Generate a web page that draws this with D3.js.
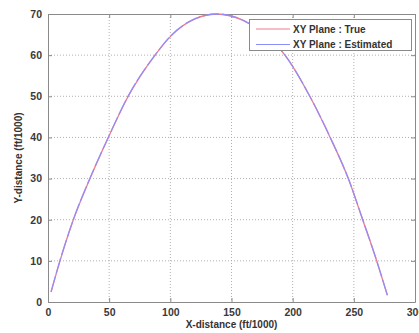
<!DOCTYPE html>
<html>
<head>
<meta charset="utf-8">
<script src="https://cdn.jsdelivr.net/npm/d3@7"></script>
<style>
body{margin:0;background:#fff;}
text{font-family:"Liberation Sans",Arial,sans-serif;}
</style>
</head>
<body>
<div id="chart"></div>
<script>
(function(){

	var width = 419;
	var height = 333;

	// trajectory
	var xTrue = [2.5, 9.8, 20.7, 34.3, 49.3, 65.6, 87.5, 100, 120, 138, 160, 175, 193.7, 214, 230.6, 245.5, 257.2, 268.7, 277.4];
	var yTrue = [2.4, 10, 20, 30, 40, 50, 60, 64.5, 68.8, 70, 68.4, 65.6, 60, 50, 40, 30, 20, 10, 1.6];
	var xEst = [2.5, 9.8, 20.7, 34.3, 49.3, 65.6, 87.5, 100, 120, 138, 160, 175, 193.7, 214, 230.6, 245.5, 257.2, 268.7, 277.4];
	var yEst = [2.5, 10.1, 20, 30.1, 40, 50.1, 60, 64.6, 68.8, 70, 68.4, 65.6, 60, 50, 40.1, 30, 20.1, 10, 1.7];

	var xTicks = [0, 50, 100, 150, 200, 250, 300];
	var yTicks = [0, 10, 20, 30, 40, 50, 60, 70];
	var legendNames = ["XY Plane : True", "XY Plane : Estimated"];
	var colors = ["#f07a8a", "#8c8cff"];

	var left = 48, right = 415, top = 14, bottom = 302;

	var svg = d3.select("div#chart")
	.append("svg")
	.attr("height", height)
	.attr("width", width)

	var x = d3.scaleLinear().domain([0, 300]).range([left, right]);
	var y = d3.scaleLinear().domain([0, 70]).range([bottom, top]);

	// grid
	svg.append("g").selectAll("line.gx")
		.data(xTicks.slice(1, -1))
		.enter().append("line")
		.attr("x1", function(d){ return x(d); })
		.attr("x2", function(d){ return x(d); })
		.attr("y1", top).attr("y2", bottom)
		.attr("stroke", "#b0b0b0")
		.attr("stroke-dasharray", "1,2");
	svg.append("g").selectAll("line.gy")
		.data(yTicks.slice(1, -1))
		.enter().append("line")
		.attr("y1", function(d){ return y(d); })
		.attr("y2", function(d){ return y(d); })
		.attr("x1", left).attr("x2", right)
		.attr("stroke", "#b0b0b0")
		.attr("stroke-dasharray", "1,2");

	// axes, ticks inward on all sides
	svg.append("g").attr("transform", "translate(0," + bottom + ")")
		.call(d3.axisBottom(x).tickValues(xTicks).tickSizeInner(-4).tickSizeOuter(0).tickPadding(7));
	svg.append("g").attr("transform", "translate(" + left + ",0)")
		.call(d3.axisLeft(y).tickValues(yTicks).tickSizeInner(-4).tickSizeOuter(0).tickPadding(6));
	svg.append("g").attr("transform", "translate(0," + top + ")")
		.call(d3.axisTop(x).tickValues(xTicks).tickSizeInner(-4).tickSizeOuter(0).tickFormat(""));
	svg.append("g").attr("transform", "translate(" + right + ",0)")
		.call(d3.axisRight(y).tickValues(yTicks).tickSizeInner(-4).tickSizeOuter(0).tickFormat(""));

	svg.selectAll(".domain").attr("stroke", "#8a8a8a");
	svg.selectAll(".tick line").attr("stroke", "#8a8a8a");
	svg.selectAll(".tick text")
		.attr("font-size", 10.5)
		.attr("font-weight", "bold")
		.attr("fill", "#3a3a3a")
		.style("font-family", "Liberation Sans, Arial, sans-serif");

	// curves
	var line = d3.line()
		.x(function(d){ return x(d[0]); })
		.y(function(d){ return y(d[1]); })
		.curve(d3.curveMonotoneX);

	svg.append("path")
		.datum(d3.zip(xTrue, yTrue))
		.attr("d", line)
		.attr("fill", "none")
		.attr("stroke", colors[0])
		.attr("stroke-width", 1.3);
	svg.append("path")
		.datum(d3.zip(xEst, yEst))
		.attr("d", line)
		.attr("fill", "none")
		.attr("stroke", colors[1])
		.attr("stroke-width", 1.3)
		.attr("stroke-opacity", 0.9)
		.attr("stroke-dasharray", "16,3");

	// legend
	var lg = svg.append("g");
	lg.append("rect")
		.attr("x", 249.5).attr("y", 19.5)
		.attr("width", 162).attr("height", 31)
		.attr("fill", "#fff")
		.attr("stroke", "#8a8a8a");
	lg.selectAll("line.lg")
		.data(legendNames)
		.enter().append("line")
		.attr("x1", 256).attr("x2", 290)
		.attr("y1", function(d, i){ return 29 + i * 15.5; })
		.attr("y2", function(d, i){ return 29 + i * 15.5; })
		.attr("stroke", function(d, i){ return colors[i]; })
		.attr("stroke-width", 1.2);
	lg.selectAll("text")
		.data(legendNames)
		.enter().append("text")
		.attr("x", 293)
		.attr("y", function(d, i){ return 29 + i * 15.5; })
		.attr("dy", "0.35em")
		.attr("font-size", 10)
		.attr("font-weight", "bold")
		.attr("fill", "#333")
		.text(function(d){ return d; });

	// axis titles
	svg.append("text")
		.attr("x", (left + right) / 2)
		.attr("y", 328)
		.attr("text-anchor", "middle")
		.attr("font-size", 10)
		.attr("font-weight", "bold")
		.attr("fill", "#333")
		.text("X-distance (ft/1000)");
	svg.append("text")
		.attr("transform", "translate(22," + ((top + bottom) / 2) + ") rotate(-90)")
		.attr("text-anchor", "middle")
		.attr("font-size", 10)
		.attr("font-weight", "bold")
		.attr("fill", "#333")
		.text("Y-distance (ft/1000)");

})();
</script>
</body>
</html>
